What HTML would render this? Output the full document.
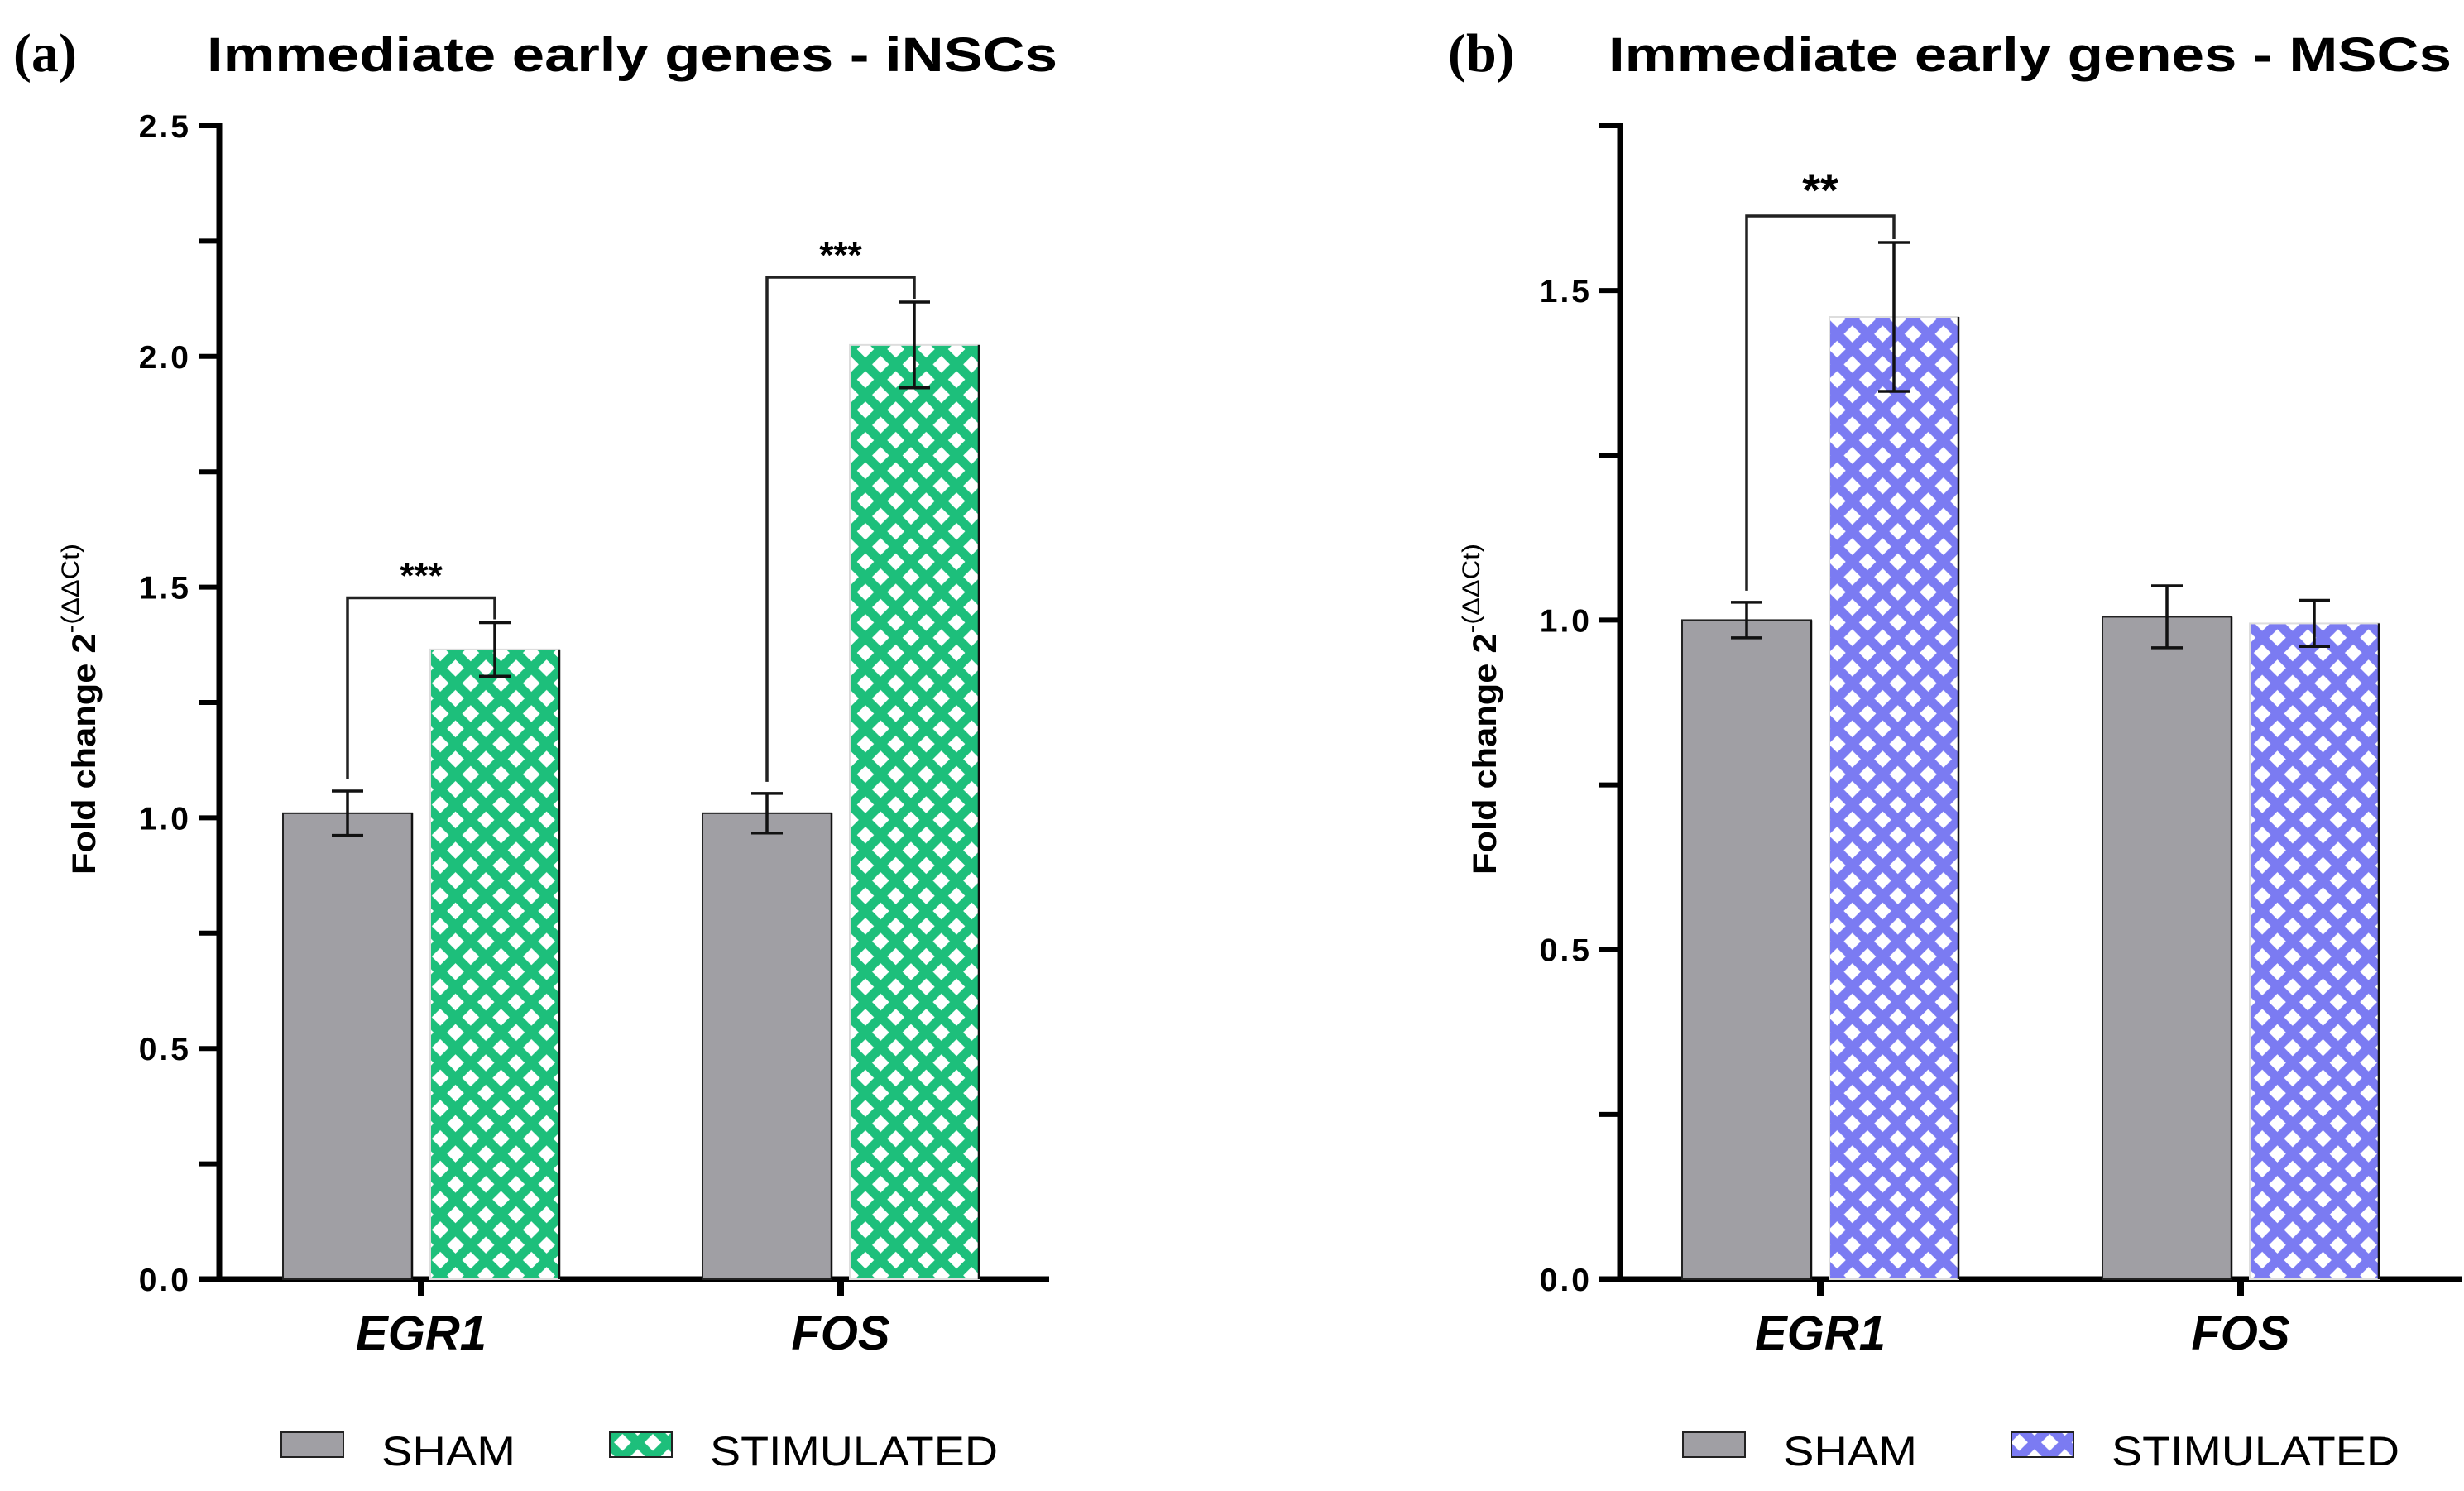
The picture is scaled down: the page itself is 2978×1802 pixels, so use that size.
<!DOCTYPE html>
<html><head><meta charset="utf-8"><style>
html,body{margin:0;padding:0;background:#fff;}
svg{display:block;font-family:"Liberation Sans",Arial,sans-serif;}
</style></head><body>
<svg id="fig" width="2978" height="1802" viewBox="0 0 2978 1802" xmlns="http://www.w3.org/2000/svg">
<defs>
<pattern id="hatchGreen" patternUnits="userSpaceOnUse" width="36.7" height="36.7">
<rect width="36.7" height="36.7" fill="#1dbf7b"/>
<polygon points="18.35,8 28.7,18.35 18.35,28.7 8,18.35" fill="#fff"/>
<polygon points="0,-10.3 10.3,0 0,10.3 -10.3,0" fill="#fff"/><polygon points="36.7,-10.3 47,0 36.7,10.3 26.4,0" fill="#fff"/>
<polygon points="0,26.4 10.3,36.7 0,47 -10.3,36.7" fill="#fff"/><polygon points="36.7,26.4 47,36.7 36.7,47 26.4,36.7" fill="#fff"/>
</pattern>
<pattern id="hatchBlue" patternUnits="userSpaceOnUse" width="36.7" height="36.7">
<rect width="36.7" height="36.7" fill="#7b7bf2"/>
<polygon points="18.35,8 28.7,18.35 18.35,28.7 8,18.35" fill="#fff"/>
<polygon points="0,-10.3 10.3,0 0,10.3 -10.3,0" fill="#fff"/><polygon points="36.7,-10.3 47,0 36.7,10.3 26.4,0" fill="#fff"/>
<polygon points="0,26.4 10.3,36.7 0,47 -10.3,36.7" fill="#fff"/><polygon points="36.7,26.4 47,36.7 36.7,47 26.4,36.7" fill="#fff"/>
</pattern>
</defs>
</svg>
<script>
// Panel (a) data
const categoriesA = ["EGR1", "FOS"];
const shamA = [1.01, 1.01];
const shamErrA = [0.048, 0.043];
const stimA = [1.365, 2.025];
const stimErrA = [0.058, 0.093];
const ticksA = ["0.0", "0.5", "1.0", "1.5", "2.0", "2.5"];
const sigA = ["***", "***"];
// Panel (b) data
const categoriesB = ["EGR1", "FOS"];
const shamB = [1.0, 1.005];
const shamErrB = [0.027, 0.047];
const stimB = [1.46, 0.995];
const stimErrB = [0.113, 0.035];
const ticksB = ["0.0", "0.5", "1.0", "1.5"];
const sigB = ["**", ""];

const NS = "http://www.w3.org/2000/svg";
const svg = document.getElementById("fig");
function mk(tag, attrs, parent, text) {
  const e = document.createElementNS(NS, tag);
  for (const k in attrs) e.setAttribute(k, attrs[k]);
  if (text !== undefined) e.textContent = text;
  (parent || svg).appendChild(e);
  return e;
}

function panel(o) {
  const g = mk("g", {});
  
  
  const y = v => o.y0 - (v / o.ymax) * (o.y0 - o.yTop);
  const lab = mk("text", {x: o.labelX, y: 86, "font-family": "Liberation Serif, serif", "font-weight": "bold", "font-size": 66}, g, o.letter);
  
  
  const t = mk("text", {x: o.titleX, y: 86, "font-weight": "bold", "font-size": 58, textLength: o.titleW, lengthAdjust: "spacingAndGlyphs"}, g, o.title);
  
  
  // y-axis title
  const yt = mk("text", {transform: `translate(${o.axisX - 150},${857}) rotate(-90)`, "text-anchor": "middle", "font-weight": "bold", "font-size": 40, textLength: 400, lengthAdjust: "spacingAndGlyphs"}, g);
  
  
  mk("tspan", {}, yt, "Fold change 2");
  mk("tspan", {dy: -20, "font-size": 30, "font-weight": "normal"}, yt, "-(ΔΔCt)");
  // axes
  const ya = mk("line", {x1: o.axisX, y1: o.yTop - 3, x2: o.axisX, y2: o.y0 + 3, stroke: "#000", "stroke-width": 7}, g);
  
  
  const xa = mk("line", {x1: o.axisX - 25, y1: o.y0, x2: o.xEnd, y2: o.y0, stroke: "#000", "stroke-width": 7}, g);
  
  
  for (let v = 0; v <= o.ymax + 1e-9; v += 0.25) {
    const tk = mk("line", {x1: o.axisX - 25, y1: y(v), x2: o.axisX, y2: y(v), stroke: "#000", "stroke-width": 6}, g);
    
    
  }
  o.ticks.forEach(s => {
    const tl = mk("text", {x: o.axisX - 34, y: y(parseFloat(s)) + 14, "text-anchor": "end", "font-weight": "bold", "font-size": 39, "letter-spacing": 3}, g, s);
    
    
  });
  o.cats.forEach((c, i) => {
    const cx = o.catX[i];
    const ct = mk("line", {x1: cx, y1: o.y0, x2: cx, y2: o.y0 + 20, stroke: "#000", "stroke-width": 8}, g);
    
    
    const cl = mk("text", {x: cx, y: o.y0 + 85, "text-anchor": "middle", "font-weight": "bold", "font-style": "italic", "font-size": 58}, g, c);
    
    
    const bw = 156;
    const sx = cx - 11 - bw, tx = cx + 11;
    const vals = [[o.sham[i], o.shamErr[i], sx, "#a09fa4", "sham"], [o.stim[i], o.stimErr[i], tx, o.fill, "stimulated"]];
    vals.forEach(([v, e, x, f, nm]) => {
      const b = mk("rect", {x: x, y: y(v), width: bw, height: o.y0 - y(v), fill: f, stroke: nm === "sham" ? "#222" : "#ddd", "stroke-width": 2}, g);
      
      
      mk("line", {x1: x + bw, y1: y(v), x2: x + bw, y2: o.y0, stroke: "#111", "stroke-width": 2.5}, g);
      const eg = mk("g", {stroke: "#111", "stroke-width": 3.5}, g);
      
      
      const mx = x + bw / 2;
      mk("line", {x1: mx, y1: y(v - e), x2: mx, y2: y(v + e)}, eg);
      mk("line", {x1: mx - 19, y1: y(v - e), x2: mx + 19, y2: y(v - e)}, eg);
      mk("line", {x1: mx - 19, y1: y(v + e), x2: mx + 19, y2: y(v + e)}, eg);
    });
    if (o.sig[i]) {
      const lx = sx + bw / 2, rx = tx + bw / 2;
      const top = Math.max(o.sham[i] + o.shamErr[i], o.stim[i] + o.stimErr[i]);
      const by = y(top) - o.brGap;
      const br = mk("polyline", {points: `${lx},${y(o.sham[i] + o.shamErr[i]) - 14} ${lx},${by} ${rx},${by} ${rx},${y(o.stim[i] + o.stimErr[i]) - 4}`, fill: "none", stroke: "#222", "stroke-width": 3.5}, g);
      
      
      const st = mk("text", {x: (lx + rx) / 2, y: by - 12, "text-anchor": "middle", "font-weight": "bold", "font-size": o.starSize}, g, o.sig[i]);
      
      
    }
  });
  // legend
  const lg = mk("g", {}, g);
  
  
  const s1 = mk("rect", {x: o.legX, y: 1731, width: 75, height: 30, fill: "#a09fa4", stroke: "#222", "stroke-width": 2}, lg);
  
  
  const l1 = mk("text", {x: o.legX + 121, y: 1771, "font-size": 50, textLength: 162, lengthAdjust: "spacingAndGlyphs"}, lg, "SHAM");
  
  
  const s2 = mk("rect", {x: o.legX + 397, y: 1731, width: 75, height: 30, fill: o.fill, stroke: "#222", "stroke-width": 2}, lg);
  
  
  const l2 = mk("text", {x: o.legX + 518, y: 1771, "font-size": 50, textLength: 348, lengthAdjust: "spacingAndGlyphs"}, lg, "STIMULATED");
  
  
}

panel({id: "a", letter: "(a)", labelX: 16, title: "Immediate early genes - iNSCs", titleX: 250, titleW: 1028,
  axisX: 265, yTop: 152, y0: 1546, ymax: 2.5, xEnd: 1268, catX: [509, 1016],
  cats: categoriesA, sham: shamA, shamErr: shamErrA, stim: stimA, stimErr: stimErrA, ticks: ticksA, sig: sigA,
  fill: "url(#hatchGreen)", legX: 340, brGap: 30, starSize: 44});
panel({id: "b", letter: "(b)", labelX: 1750, title: "Immediate early genes - MSCs", titleX: 1944, titleW: 1019,
  axisX: 1958, yTop: 152, y0: 1546, ymax: 1.75, xEnd: 2975, catX: [2200, 2708],
  cats: categoriesB, sham: shamB, shamErr: shamErrB, stim: stimB, stimErr: stimErrB, ticks: ticksB, sig: sigB,
  fill: "url(#hatchBlue)", legX: 2034, brGap: 32, starSize: 56});
</script>
</body></html>
